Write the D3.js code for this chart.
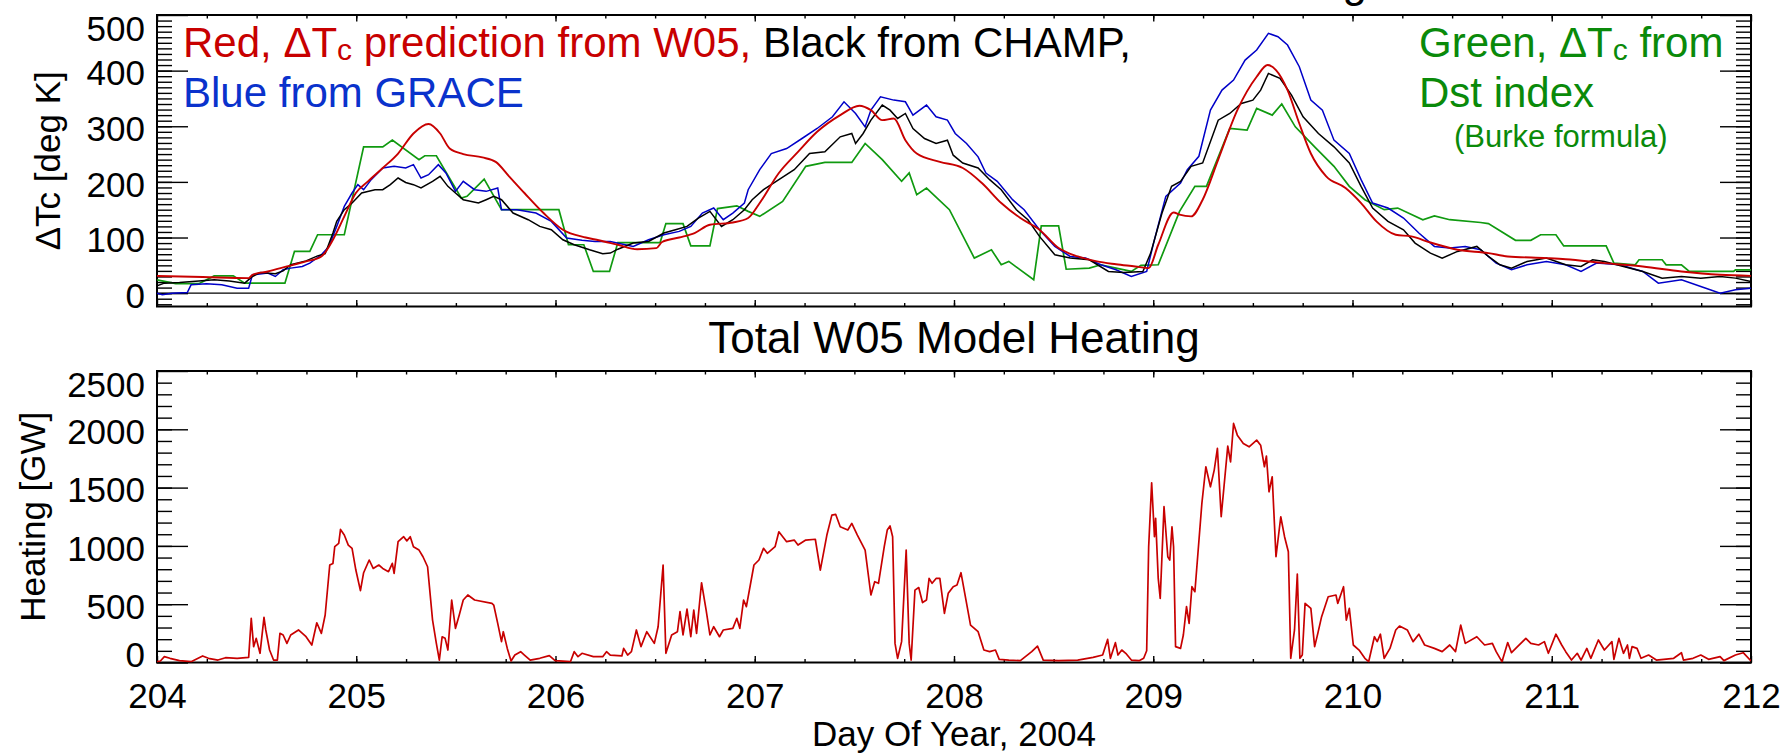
<!DOCTYPE html>
<html>
<head>
<meta charset="utf-8">
<script src="https://cdn.jsdelivr.net/npm/d3@7"></script>
<style>
  body { margin: 0; background: #fff; }
  text { font-family: "Liberation Sans", Arial, Helvetica, sans-serif; }
</style>
</head>
<body>
<div id="chart"></div>
<script>
////////////////////////////////////////////////////////////
//////////////////////// Data //////////////////////////////
////////////////////////////////////////////////////////////
// [day of year, delta Tc in deg K]
var redW05 = [[204.000,31],[204.230,29],[204.460,27],[204.479,33],[204.556,39],[204.652,48],[204.748,57],[204.825,66],[204.883,96],[204.940,138],[204.998,180],[205.056,200],[205.133,225],[205.210,251],[205.287,287],[205.363,304],[205.421,287],[205.469,260],[205.537,250],[205.633,244],[205.700,236],[205.767,210],[205.844,180],[205.940,144],[206.037,114],[206.152,100],[206.217,95],[206.313,87],[206.410,79],[206.506,81],[206.535,92],[206.621,100],[206.698,108],[206.775,123],[206.890,127],[206.967,135],[207.025,162],[207.121,216],[207.217,254],[207.313,290],[207.429,320],[207.525,337],[207.583,329],[207.640,311],[207.698,314],[207.756,275],[207.813,251],[207.929,236],[208.044,225],[208.140,198],[208.237,162],[208.333,135],[208.429,114],[208.525,81],[208.621,66],[208.717,57],[208.813,52],[208.910,48],[208.977,45],[209.025,87],[209.102,145],[209.132,141],[209.190,138],[209.248,168],[209.326,240],[209.422,329],[209.519,389],[209.574,410],[209.616,401],[209.674,365],[209.733,305],[209.791,251],[209.868,210],[209.965,189],[210.043,162],[210.120,129],[210.217,105],[210.295,102],[210.391,91],[210.527,78],[210.682,72],[210.779,66],[210.973,63],[211.070,61],[211.264,54],[211.457,48],[211.651,39],[211.845,33],[212.000,31]];

var blackCHAMP = [[204.000,13],[204.037,18],[204.113,19],[204.210,22],[204.287,24],[204.363,22],[204.440,18],[204.479,30],[204.517,37],[204.594,35],[204.633,40],[204.671,51],[204.748,58],[204.806,67],[204.844,71],[204.883,108],[204.902,129],[204.940,150],[204.979,162],[205.027,180],[205.094,186],[205.133,186],[205.171,195],[205.210,207],[205.248,199],[205.287,195],[205.325,189],[205.383,201],[205.421,210],[205.460,192],[205.498,180],[205.537,168],[205.613,162],[205.652,168],[205.690,174],[205.729,168],[205.787,144],[205.863,132],[205.921,120],[205.979,114],[206.037,96],[206.094,87],[206.171,78],[206.237,71],[206.275,72],[206.313,79],[206.390,90],[206.467,93],[206.544,108],[206.602,114],[206.660,120],[206.717,135],[206.775,147],[206.833,120],[206.890,132],[206.948,150],[206.987,168],[207.044,186],[207.121,204],[207.198,222],[207.275,251],[207.352,254],[207.429,281],[207.487,287],[207.506,269],[207.544,287],[207.583,311],[207.640,338],[207.679,329],[207.717,314],[207.756,323],[207.794,296],[207.852,278],[207.910,269],[207.967,275],[207.996,248],[208.044,234],[208.121,225],[208.179,204],[208.237,186],[208.313,150],[208.371,132],[208.429,102],[208.506,69],[208.583,63],[208.679,60],[208.775,39],[208.852,37],[208.948,39],[208.987,72],[209.044,144],[209.092,192],[209.137,201],[209.190,228],[209.248,234],[209.326,311],[209.384,323],[209.442,341],[209.500,347],[209.539,365],[209.578,395],[209.636,386],[209.694,356],[209.752,317],[209.829,287],[209.907,263],[209.984,234],[210.043,192],[210.101,153],[210.178,129],[210.256,114],[210.314,90],[210.391,72],[210.450,63],[210.527,75],[210.624,84],[210.682,66],[210.740,51],[210.798,45],[210.876,57],[210.973,63],[211.070,51],[211.147,48],[211.205,60],[211.264,57],[211.360,48],[211.457,39],[211.554,27],[211.651,30],[211.748,27],[211.845,30],[211.922,27],[212.000,21]];

var blueGRACE = [[204.000,0],[204.027,-3],[204.075,0],[204.152,1],[204.171,15],[204.248,17],[204.325,15],[204.402,9],[204.460,9],[204.479,33],[204.556,36],[204.594,30],[204.633,42],[204.671,45],[204.729,48],[204.767,54],[204.825,69],[204.863,84],[204.902,120],[204.940,156],[204.979,180],[205.008,195],[205.037,186],[205.075,204],[205.133,225],[205.190,228],[205.248,225],[205.287,231],[205.325,207],[205.363,213],[205.412,231],[205.450,216],[205.498,183],[205.537,201],[205.594,186],[205.652,183],[205.710,189],[205.729,150],[205.806,150],[205.902,144],[205.979,129],[206.056,99],[206.133,95],[206.198,93],[206.275,93],[206.390,84],[206.467,96],[206.544,105],[206.621,111],[206.679,120],[206.737,144],[206.794,153],[206.842,132],[206.890,144],[206.948,162],[206.967,186],[207.025,222],[207.083,251],[207.160,260],[207.237,278],[207.313,296],[207.390,317],[207.448,344],[207.506,323],[207.554,299],[207.583,329],[207.631,353],[207.698,347],[207.756,344],[207.794,320],[207.862,338],[207.910,317],[207.967,311],[208.006,287],[208.063,269],[208.121,245],[208.160,216],[208.217,201],[208.294,168],[208.352,150],[208.429,114],[208.506,84],[208.583,66],[208.660,63],[208.737,51],[208.813,42],[208.890,30],[208.967,39],[209.006,96],[209.063,174],[209.137,198],[209.171,222],[209.229,246],[209.287,329],[209.345,365],[209.403,383],[209.461,419],[209.519,437],[209.578,467],[209.626,461],[209.674,446],[209.733,407],[209.791,347],[209.849,329],[209.907,275],[209.984,251],[210.043,204],[210.101,162],[210.178,153],[210.256,135],[210.333,108],[210.411,84],[210.488,81],[210.566,84],[210.643,78],[210.721,54],[210.798,42],[210.876,51],[210.973,57],[211.070,51],[211.147,39],[211.225,54],[211.341,51],[211.457,39],[211.535,18],[211.651,24],[211.748,12],[211.845,0],[211.922,6],[212.000,9]];

var greenDst = [[204.000,24],[204.094,17],[204.210,17],[204.287,31],[204.383,31],[204.440,18],[204.642,18],[204.690,75],[204.767,75],[204.806,105],[204.940,105],[205.037,263],[205.133,263],[205.181,275],[205.315,240],[205.344,247],[205.402,247],[205.527,171],[205.556,174],[205.642,205],[205.729,150],[206.017,150],[206.065,87],[206.142,87],[206.190,39],[206.271,39],[206.313,91],[206.525,91],[206.554,125],[206.640,125],[206.679,85],[206.775,85],[206.813,152],[206.910,157],[206.967,147],[207.025,138],[207.140,165],[207.256,228],[207.352,235],[207.487,235],[207.554,269],[207.640,240],[207.737,201],[207.775,216],[207.813,177],[207.862,189],[207.977,150],[208.102,63],[208.188,78],[208.237,51],[208.275,57],[208.400,24],[208.438,121],[208.525,121],[208.563,43],[208.679,45],[208.737,51],[208.813,45],[208.890,39],[208.938,50],[209.025,51],[209.132,147],[209.209,192],[209.267,192],[209.384,296],[209.471,293],[209.519,332],[209.597,320],[209.645,340],[209.713,299],[209.810,263],[209.907,228],[209.984,192],[210.062,168],[210.159,150],[210.227,153],[210.353,132],[210.411,139],[210.488,132],[210.643,127],[210.682,125],[210.818,95],[210.895,95],[210.944,105],[211.021,105],[211.060,85],[211.273,85],[211.312,54],[211.419,51],[211.438,60],[211.554,60],[211.574,51],[211.651,51],[211.690,39],[211.913,39],[211.922,42],[212.000,42]];

// [day of year, heating in GW]
var heatingW05 = [[204.000,7],[204.017,13],[204.037,50],[204.065,36],[204.113,16],[204.171,7],[204.229,56],[204.258,36],[204.306,21],[204.344,41],[204.402,36],[204.460,44],[204.473,379],[204.485,136],[204.498,207],[204.517,79],[204.537,387],[204.546,279],[204.565,107],[204.585,21],[204.604,21],[204.617,250],[204.633,236],[204.652,164],[204.671,236],[204.710,279],[204.748,221],[204.777,150],[204.802,341],[204.825,250],[204.844,407],[204.867,836],[204.883,850],[204.892,993],[204.912,1021],[204.921,1141],[204.940,1093],[204.960,1007],[204.979,979],[204.998,793],[205.021,616],[205.037,770],[205.065,879],[205.085,807],[205.113,836],[205.133,807],[205.162,779],[205.181,850],[205.190,764],[205.210,1036],[205.238,1079],[205.254,1043],[205.271,1079],[205.287,993],[205.315,964],[205.335,907],[205.358,821],[205.383,364],[205.402,164],[205.417,21],[205.431,221],[205.446,207],[205.460,107],[205.479,536],[205.498,293],[205.517,407],[205.537,536],[205.560,579],[205.594,536],[205.681,507],[205.690,493],[205.710,336],[205.729,179],[205.738,264],[205.758,121],[205.777,13],[205.796,64],[205.825,93],[205.844,64],[205.873,21],[205.921,36],[205.969,59],[205.998,16],[206.075,7],[206.094,93],[206.113,50],[206.133,79],[206.190,50],[206.237,50],[206.256,93],[206.275,64],[206.333,56],[206.342,121],[206.362,64],[206.381,93],[206.406,279],[206.429,136],[206.458,264],[206.496,164],[206.515,307],[206.540,836],[206.554,79],[206.583,236],[206.612,264],[206.625,436],[206.640,236],[206.660,457],[206.679,221],[206.694,450],[206.708,250],[206.733,684],[206.756,450],[206.775,236],[206.794,307],[206.823,221],[206.842,279],[206.890,293],[206.910,379],[206.925,293],[206.944,536],[206.958,479],[206.996,836],[207.021,879],[207.044,979],[207.063,936],[207.102,993],[207.121,1121],[207.160,1036],[207.198,1050],[207.217,1007],[207.256,1050],[207.304,1057],[207.329,793],[207.362,1093],[207.387,1264],[207.406,1271],[207.429,1164],[207.467,1136],[207.487,1193],[207.515,1093],[207.554,964],[207.583,579],[207.602,693],[207.621,679],[207.650,993],[207.665,1136],[207.679,1171],[207.692,1079],[207.704,164],[207.717,36],[207.737,179],[207.760,964],[207.775,164],[207.785,21],[207.804,621],[207.823,643],[207.842,514],[207.862,536],[207.875,721],[207.890,679],[207.910,721],[207.929,721],[207.952,421],[207.971,593],[207.996,650],[208.015,664],[208.035,770],[208.054,593],[208.083,321],[208.121,264],[208.150,107],[208.179,93],[208.208,107],[208.227,27],[208.275,21],[208.333,16],[208.390,93],[208.419,141],[208.448,21],[208.525,16],[208.621,21],[208.698,44],[208.746,64],[208.771,198],[208.785,36],[208.810,170],[208.823,64],[208.842,107],[208.862,79],[208.890,21],[208.929,16],[208.952,36],[208.967,101],[208.977,993],[208.992,1541],[209.006,1079],[209.012,1236],[209.025,721],[209.035,550],[209.054,1336],[209.073,907],[209.083,879],[209.094,1164],[209.102,993],[209.112,136],[209.137,121],[209.151,236],[209.167,479],[209.180,336],[209.194,650],[209.209,607],[209.244,1364],[209.264,1679],[209.287,1507],[209.306,1650],[209.322,1836],[209.341,1250],[209.374,1856],[209.388,1721],[209.403,2050],[209.422,1950],[209.452,1879],[209.481,1850],[209.519,1907],[209.539,1864],[209.558,1679],[209.568,1771],[209.581,1464],[209.597,1593],[209.616,907],[209.640,1250],[209.659,1079],[209.678,950],[209.690,36],[209.709,279],[209.723,759],[209.736,36],[209.748,64],[209.762,507],[209.791,464],[209.810,136],[209.826,250],[209.845,393],[209.878,564],[209.917,579],[209.926,507],[209.955,650],[209.969,364],[209.984,464],[210.004,150],[210.033,107],[210.062,36],[210.081,7],[210.110,221],[210.124,179],[210.140,243],[210.159,36],[210.188,121],[210.217,279],[210.236,313],[210.275,279],[210.304,179],[210.333,243],[210.362,150],[210.411,121],[210.450,93],[210.488,150],[210.517,93],[210.543,321],[210.566,164],[210.624,221],[210.663,150],[210.702,164],[210.721,93],[210.750,7],[210.779,171],[210.798,84],[210.828,136],[210.870,207],[210.895,164],[210.934,150],[210.963,179],[210.983,79],[211.021,243],[211.050,150],[211.070,93],[211.099,21],[211.128,79],[211.147,21],[211.176,121],[211.196,36],[211.234,193],[211.264,107],[211.302,179],[211.312,27],[211.337,207],[211.360,79],[211.380,150],[211.390,36],[211.403,136],[211.428,121],[211.448,36],[211.486,64],[211.525,21],[211.612,36],[211.651,84],[211.661,21],[211.709,36],[211.748,64],[211.787,27],[211.845,50],[211.864,16],[211.922,64],[211.961,84],[212.000,13]];

// Tick labels
var xTickLabels = [204, 205, 206, 207, 208, 209, 210, 211, 212];
var yTopLabels = [0, 100, 200, 300, 400, 500];
var yBotLabels = [0, 500, 1000, 1500, 2000, 2500];

////////////////////////////////////////////////////////////
//////////////////////// Set-Up ////////////////////////////
////////////////////////////////////////////////////////////
var width = 1785, height = 754;
var plotL = 157, plotR = 1751;
var top1 = 15, bot1 = 306.5;   // upper panel
var top2 = 371, bot2 = 662.5;  // lower panel

var red = "#c80000", blue = "#0000c8", green = "#109a10";

var svg = d3.select("#chart").append("svg")
  .attr("width", width)
  .attr("height", height);

var x = d3.scaleLinear().domain([204, 212]).range([plotL, plotR]);
var yT = d3.scaleLinear().domain([-24, 500]).range([bot1, top1]);
var yB = d3.scaleLinear().domain([0, 2500]).range([bot2, top2]);

var dayMinor = d3.range(204.25, 212, 0.25);
var topMinor = d3.range(-20, 500, 10);
var botMinor = d3.range(100, 2500, 100);

// clip paths
var defs = svg.append("defs");
defs.append("clipPath").attr("id", "clipTop").append("rect")
  .attr("x", plotL).attr("y", top1).attr("width", plotR - plotL).attr("height", bot1 - top1);
defs.append("clipPath").attr("id", "clipBot").append("rect")
  .attr("x", plotL).attr("y", top2).attr("width", plotR - plotL).attr("height", bot2 - top2);

// Draw ticks only (no labels) with a d3 axis
function addTicks(g, axisGen, scale, values, size, tx, ty) {
  var a = g.append("g").attr("transform", "translate(" + tx + "," + ty + ")")
    .call(axisGen(scale).tickValues(values).tickSize(size).tickSizeOuter(0).tickFormat(""));
  a.select(".domain").remove();
  a.selectAll("line").attr("stroke", "#000").attr("stroke-width", 1.4);
}

// Frame + ticks for one panel
function drawPanel(yScale, top, bot, yMajor, yMinor) {
  var g = svg.append("g");
  addTicks(g, d3.axisTop, x, dayMinor, 3.5, 0, bot);
  addTicks(g, d3.axisTop, x, xTickLabels, 6.5, 0, bot);
  addTicks(g, d3.axisBottom, x, dayMinor, 3.5, 0, top);
  addTicks(g, d3.axisBottom, x, xTickLabels, 6.5, 0, top);
  addTicks(g, d3.axisRight, yScale, yMinor, 15, plotL, 0);
  addTicks(g, d3.axisRight, yScale, yMajor, 31, plotL, 0);
  addTicks(g, d3.axisLeft, yScale, yMinor, 15, plotR, 0);
  addTicks(g, d3.axisLeft, yScale, yMajor, 31, plotR, 0);
  g.append("rect")
    .attr("x", plotL).attr("y", top)
    .attr("width", plotR - plotL).attr("height", bot - top)
    .attr("fill", "none").attr("stroke", "#000").attr("stroke-width", 2);
  return g;
}

// Y tick labels, IDL style: end labels pulled inside the frame
function yLabels(yScale, values, top, bot) {
  var a = svg.append("g").attr("transform", "translate(" + plotL + ",0)")
    .call(d3.axisLeft(yScale).tickValues(values).tickSize(0).tickPadding(12).tickFormat(d3.format("d")));
  a.select(".domain").remove();
  a.attr("font-size", 35).attr("font-family", null);
  a.selectAll("text").attr("fill", "#000")
    .attr("dy", function(d) {
      var y = yScale(d);
      if (Math.abs(y - top) < 2) return 25.7;
      if (Math.abs(y - bot) < 2) return 3.5;
      return 14.2;
    });
}

////////////////////////////////////////////////////////////
/////////////////////// Top panel //////////////////////////
////////////////////////////////////////////////////////////
drawPanel(yT, top1, bot1, yTopLabels, topMinor);
yLabels(yT, yTopLabels, top1, bot1);

// zero line
svg.append("line")
  .attr("x1", plotL).attr("x2", plotR)
  .attr("y1", yT(0)).attr("y2", yT(0))
  .attr("stroke", "#000").attr("stroke-width", 1.3);

var lineT = d3.line().x(function(d) { return x(d[0]); }).y(function(d) { return yT(d[1]); });
var lineTs = d3.line().x(function(d) { return x(d[0]); }).y(function(d) { return yT(d[1]); }).curve(d3.curveMonotoneX);

var gTop = svg.append("g").attr("clip-path", "url(#clipTop)");
gTop.append("path").datum(greenDst).attr("d", lineT)
  .attr("fill", "none").attr("stroke", green).attr("stroke-width", 1.7);
gTop.append("path").datum(blueGRACE).attr("d", lineT)
  .attr("fill", "none").attr("stroke", blue).attr("stroke-width", 1.5);
gTop.append("path").datum(blackCHAMP).attr("d", lineT)
  .attr("fill", "none").attr("stroke", "#000").attr("stroke-width", 1.5);
gTop.append("path").datum(redW05).attr("d", lineTs)
  .attr("fill", "none").attr("stroke", red).attr("stroke-width", 1.9);

// axis title
svg.append("text")
  .attr("transform", "translate(60," + ((top1 + bot1) / 2) + ") rotate(-90)")
  .attr("text-anchor", "middle").attr("font-size", 35)
  .text("\u0394Tc [deg K]");

// title above the top panel, cut off by the page edge as in the original
svg.append("text")
  .attr("x", 1367).attr("y", -3)
  .attr("text-anchor", "end").attr("font-size", 44)
  .text("Heating");

// legend texts
var leg1 = svg.append("text").attr("x", 183).attr("y", 57).attr("font-size", 42);
leg1.append("tspan").attr("fill", red).text("Red, \u0394T");
leg1.append("tspan").attr("fill", red).attr("font-size", 30).attr("dy", 3).text("c");
leg1.append("tspan").attr("fill", red).attr("dy", -3).text(" prediction from W05,");
leg1.append("tspan").attr("fill", "#000").text(" Black from CHAMP,");

svg.append("text").attr("x", 183).attr("y", 107).attr("font-size", 42)
  .attr("fill", "#0a32cc").text("Blue from GRACE");

var legG = svg.append("text").attr("x", 1419).attr("y", 57).attr("font-size", 42).attr("fill", "#0a8a0a");
legG.append("tspan").text("Green, \u0394T");
legG.append("tspan").attr("font-size", 30).attr("dy", 3).text("c");
legG.append("tspan").attr("dy", -3).text(" from");
svg.append("text").attr("x", 1419).attr("y", 107).attr("font-size", 42)
  .attr("fill", "#0a8a0a").text("Dst index");
svg.append("text").attr("x", 1454).attr("y", 147).attr("font-size", 31)
  .attr("fill", "#0a8a0a").text("(Burke formula)");

////////////////////////////////////////////////////////////
////////////////////// Bottom panel ////////////////////////
////////////////////////////////////////////////////////////
drawPanel(yB, top2, bot2, yBotLabels, botMinor);
yLabels(yB, yBotLabels, top2, bot2);

var lineB = d3.line().x(function(d) { return x(d[0]); }).y(function(d) { return yB(d[1]); });
svg.append("g").attr("clip-path", "url(#clipBot)")
  .append("path").datum(heatingW05).attr("d", lineB)
  .attr("fill", "none").attr("stroke", red).attr("stroke-width", 1.7)
  .attr("stroke-linejoin", "round");

// x tick labels
var xa = svg.append("g").attr("transform", "translate(0," + bot2 + ")")
  .call(d3.axisBottom(x).tickValues(xTickLabels).tickSize(0).tickPadding(20.6).tickFormat(d3.format("d")));
xa.select(".domain").remove();
xa.attr("font-size", 35).attr("font-family", null);
xa.selectAll("text").attr("fill", "#000");

svg.append("text")
  .attr("x", (plotL + plotR) / 2).attr("y", 353)
  .attr("text-anchor", "middle").attr("font-size", 44)
  .text("Total W05 Model Heating");

svg.append("text")
  .attr("transform", "translate(45," + ((top2 + bot2) / 2) + ") rotate(-90)")
  .attr("text-anchor", "middle").attr("font-size", 35)
  .text("Heating [GW]");

svg.append("text")
  .attr("x", (plotL + plotR) / 2).attr("y", 746)
  .attr("text-anchor", "middle").attr("font-size", 35)
  .text("Day Of Year, 2004");
</script>
</body>
</html>
